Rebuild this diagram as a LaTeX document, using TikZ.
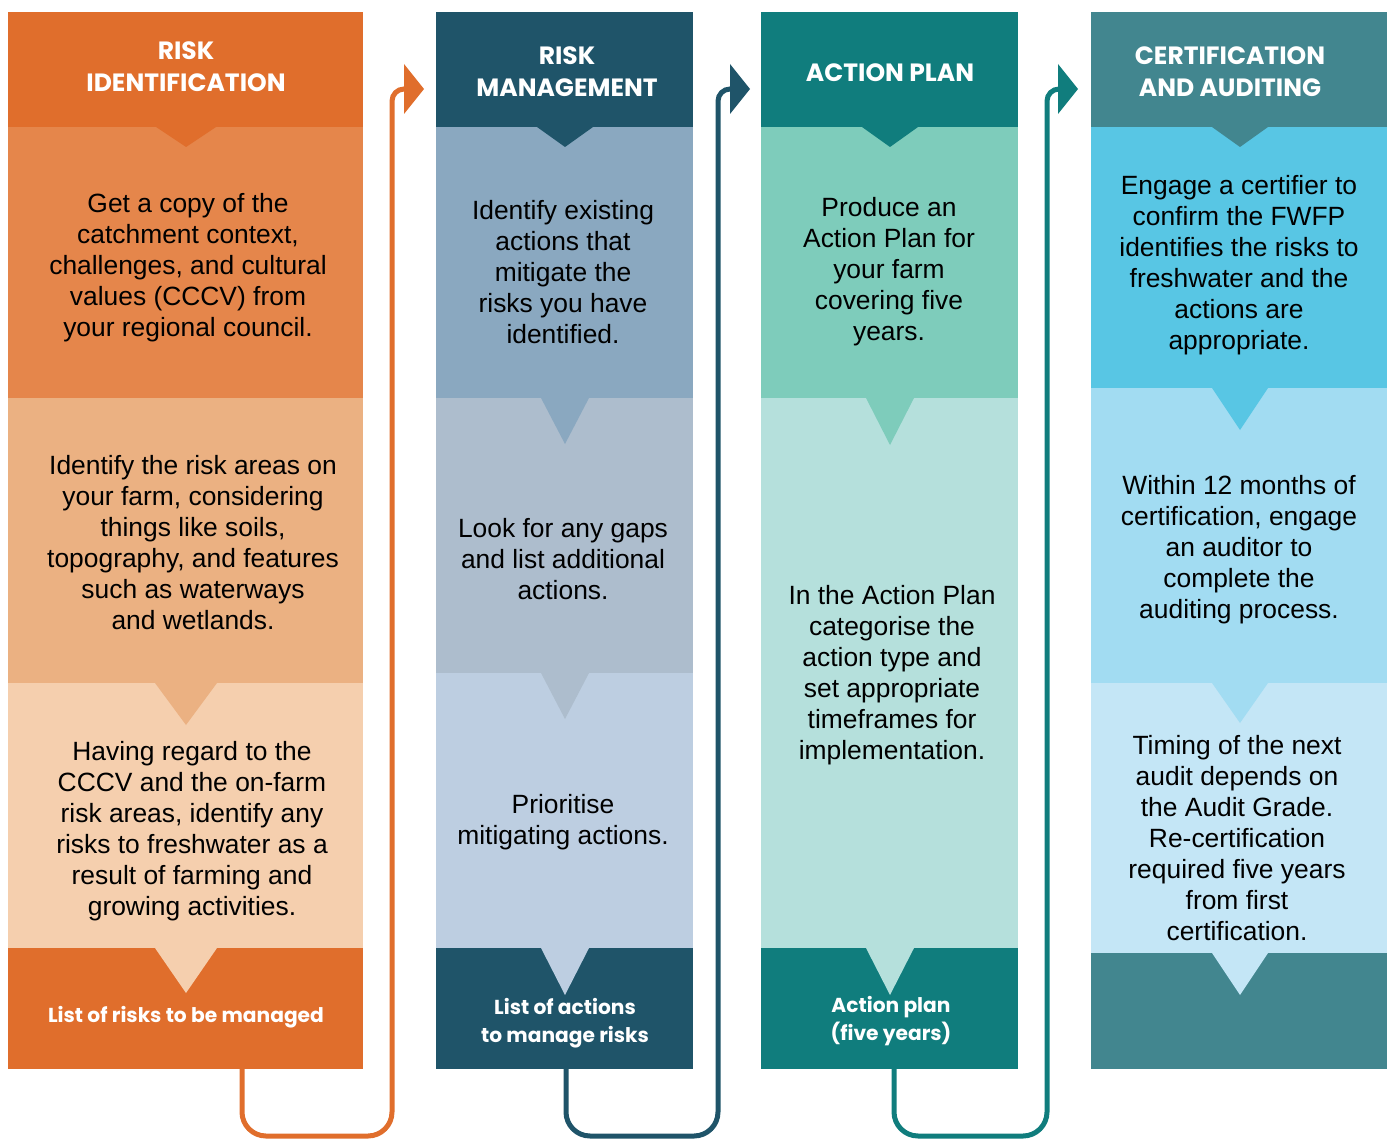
\documentclass[tikz,border=0pt]{standalone}
\usepackage{fontspec}
\setmainfont{Liberation Sans}
\newfontfamily\headfont{Poppins}

\definecolor{ohead}{HTML}{E06E2C}
\definecolor{oone}{HTML}{E5864B}
\definecolor{otwo}{HTML}{EBB182}
\definecolor{othree}{HTML}{F5CFAE}
\definecolor{bhead}{HTML}{1F5469}
\definecolor{bone}{HTML}{8AA8C0}
\definecolor{btwo}{HTML}{ADBDCD}
\definecolor{bthree}{HTML}{BDCEE1}
\definecolor{thead}{HTML}{107D7D}
\definecolor{tone}{HTML}{7ECCBB}
\definecolor{ttwo}{HTML}{B5E0DC}
\definecolor{chead}{HTML}{42868F}
\definecolor{cone}{HTML}{58C6E4}
\definecolor{ctwo}{HTML}{A2DCF2}
\definecolor{cthree}{HTML}{C4E6F6}

\newcommand\tri[5]{\fill[#1] (#2-#4,#3) -- (#2+#4,#3) -- (#2,#3+#5) -- cycle;}

\begin{document}
\begin{tikzpicture}[x=0.5pt,y=-0.5pt,
	txt/.style={align=center,text=black,font=\fontsize{13.2}{15.5}\selectfont},
	head/.style={align=center,text=white,font=\headfont\bfseries\fontsize{12.5}{16}\selectfont},
	foot/.style={align=center,text=white,font=\headfont\bfseries\fontsize{10.1}{14}\selectfont},
	conn/.style={line width=2.5pt}]
		\useasboundingbox (0,0) rectangle (1391,1139);

		\fill[ohead] (8,12) rectangle (363,127);
		\fill[oone] (8,127) rectangle (363,398);
		\fill[otwo] (8,398) rectangle (363,683);
		\fill[othree] (8,683) rectangle (363,948);
		\fill[ohead] (8,948) rectangle (363,1069);
		\tri{ohead}{186}{127}{30}{20}
		\tri{otwo}{186}{683}{31}{42}
		\tri{othree}{186}{948}{31}{45}

		\fill[bhead] (436,12) rectangle (693,127);
		\fill[bone] (436,127) rectangle (693,398);
		\fill[btwo] (436,398) rectangle (693,673);
		\fill[bthree] (436,673) rectangle (693,948);
		\fill[bhead] (436,948) rectangle (693,1069);
		\tri{bhead}{565}{127}{28}{20}
		\tri{bone}{565}{398}{24}{46}
		\tri{btwo}{565}{673}{24}{46}
		\tri{bthree}{565}{948}{24}{47}

		\fill[thead] (761,12) rectangle (1018,127);
		\fill[tone] (761,127) rectangle (1018,398);
		\fill[ttwo] (761,398) rectangle (1018,948);
		\fill[thead] (761,948) rectangle (1018,1069);
		\tri{thead}{890}{127}{28}{20}
		\tri{tone}{890}{398}{24}{47}
		\tri{ttwo}{890}{948}{24}{47}

		\fill[chead] (1091,12) rectangle (1387,127);
		\fill[cone] (1091,127) rectangle (1387,388);
		\fill[ctwo] (1091,388) rectangle (1387,683);
		\fill[cthree] (1091,683) rectangle (1387,953);
		\fill[chead] (1091,953) rectangle (1387,1069);
		\tri{chead}{1240}{127}{28}{20}
		\tri{cone}{1240}{388}{28}{42}
		\tri{ctwo}{1240}{683}{28}{40}
		\tri{cthree}{1240}{953}{28}{42}

		\node(h1) at (186,67) [head] {RISK\\IDENTIFICATION};
		\node(h2) at (567,72) [head] {RISK\\MANAGEMENT};
		\node(h3) at (890,73) [head] {ACTION PLAN};
		\node(h4) at (1230,72) [head] {CERTIFICATION\\AND AUDITING};

		\node(o1) at (188,268) [txt] {Get a copy of the\\catchment context,\\challenges, and cultural\\values (CCCV) from\\your regional council.};
		\node(o2) at (193,543) [txt] {Identify the risk areas on\\your farm, considering\\things like soils,\\topography, and features\\such as waterways\\and wetlands.};
		\node(o3) at (192,831) [txt] {Having regard to the\\CCCV and the on-farm\\risk areas, identify any\\risks to freshwater as a\\result of farming and\\growing activities.};
		\node(o4) at (186,1017) [foot] {List of risks to be managed};

		\node(b1) at (563,272) [txt] {Identify existing\\actions that\\mitigate the\\risks you have\\identified.};
		\node(b2) at (563,559) [txt] {Look for any gaps\\and list additional\\actions.};
		\node(b3) at (563,822) [txt] {Prioritise\\mitigating actions.};
		\node(b4) at (565,1023) [foot] {List of actions\\to manage risks};

		\node(t1) at (889,272) [txt] {Produce an\\Action Plan for\\your farm\\covering five\\years.};
		\node(t2) at (892,675) [txt] {In the Action Plan\\categorise the\\action type and\\set appropriate\\timeframes for\\implementation.};
		\node(t4) at (891,1021) [foot] {Action plan\\(five years)};

		\node(c1) at (1239,265) [txt] {Engage a certifier to\\confirm the FWFP\\identifies the risks to\\freshwater and the\\actions are\\appropriate.};
		\node(c2) at (1239,550) [txt] {Within 12 months of\\certification, engage\\an auditor to\\complete the\\auditing process.};
		\node(c3) at (1237,838) [txt] {Timing of the next\\audit depends on\\the Audit Grade.\\Re-certification\\required five years\\from first\\certification.};

		\coordinate (f1) at (242,1069);
		\coordinate (a1) at (406,89);
		\draw[conn,ohead,rounded corners=12pt] (f1) |- (392,1136) [rounded corners=6pt] |- (a1);
		\fill[ohead] (a1) ++(-2,-25) -- ++(20,25) -- ++(-20,25) -- cycle;

		\coordinate (f2) at (566,1069);
		\coordinate (a2) at (732,89);
		\draw[conn,bhead,rounded corners=12pt] (f2) |- (718,1136) [rounded corners=6pt] |- (a2);
		\fill[bhead] (a2) ++(-2,-25) -- ++(20,25) -- ++(-20,25) -- cycle;

		\coordinate (f3) at (894,1069);
		\coordinate (a3) at (1060,89);
		\draw[conn,thead,rounded corners=12pt] (f3) |- (1047,1136) [rounded corners=6pt] |- (a3);
		\fill[thead] (a3) ++(-2,-25) -- ++(20,25) -- ++(-20,25) -- cycle;
	\end{tikzpicture}
\end{document}
